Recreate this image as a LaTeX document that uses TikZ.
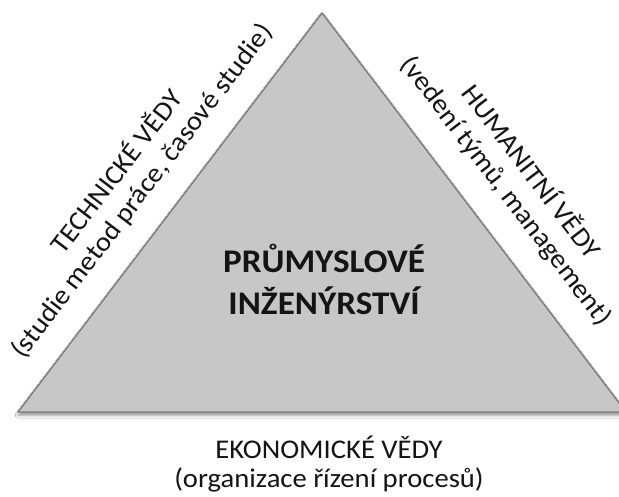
\documentclass[tikz,border=0pt]{standalone}
\usepackage{fontspec}
\usepackage{graphicx}
\setmainfont{Carlito}
\usetikzlibrary{shadows.blur}
\definecolor{trifill}{RGB}{199,199,199}
\definecolor{triedge}{RGB}{120,120,120}
\definecolor{txt}{RGB}{20,20,20}
% slightly widened lines of text
\newcommand{\wideline}[1]{\scalebox{1.06}[1]{#1}}
\newcommand{\boldline}[1]{\scalebox{1.065}[1]{#1}}
\tikzset{
  sidelabel/.style={align=center, text=txt, font=\fontsize{27}{31}\selectfont, inner sep=0pt},
  baselabel/.style={align=center, text=txt, font=\fontsize{27}{28.5}\selectfont, inner sep=0pt},
  corelabel/.style={align=center, text=txt, font=\fontsize{33}{42}\selectfont\bfseries, inner sep=0pt},
}
\begin{document}
\begin{tikzpicture}[x=1pt, y=-1pt]
  \useasboundingbox (0,0) rectangle (619,496);
  \clip (0,0) rectangle (619,496);
  \fill[white] (0,0) rectangle (619,496);
  % corners of the triangle
  \coordinate (top) at (322,13);
  \coordinate (bl) at (18,412);
  \coordinate (br) at (626,412);
  \path[fill=trifill, draw=triedge, line width=1.3pt, line join=miter,
        blur shadow={shadow xshift=0pt, shadow yshift=-3pt, shadow blur radius=3pt, shadow opacity=45}]
    (top) -- (br) -- (bl) -- cycle;
  % labels
  \node[corelabel] (core) at (324,279) {\boldline{PRŮMYSLOVÉ}\\\boldline{INŽENÝRSTVÍ}};
  \node[sidelabel, rotate=52.7] (tech) at (129,181)
    {\wideline{TECHNICKÉ VĚDY}\\\wideline{(studie metod práce, časové studie)}};
  \node[sidelabel, rotate=-52.7] (hum) at (519,181)
    {\wideline{HUMANITNÍ VĚDY}\\\wideline{(vedení týmů, management)}};
  \node[baselabel] (eko) at (329,464)
    {\wideline{EKONOMICKÉ VĚDY}\\\wideline{(organizace řízení procesů)}};
\end{tikzpicture}
\end{document}
